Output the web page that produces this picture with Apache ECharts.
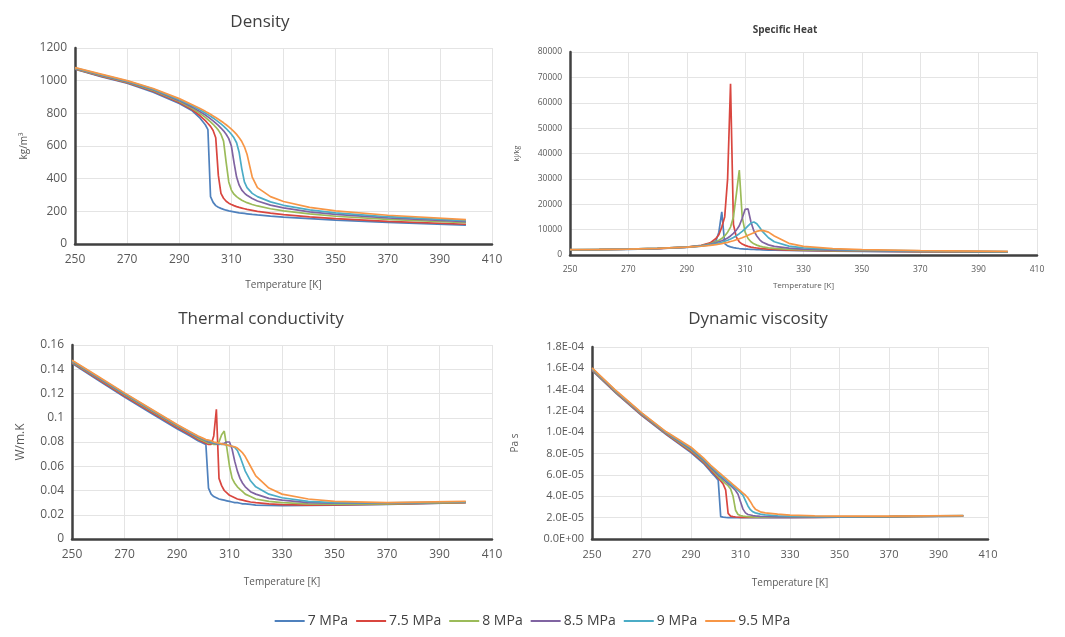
<!DOCTYPE html>
<html><head><meta charset="utf-8">
<script src="https://cdn.jsdelivr.net/npm/echarts@6/dist/echarts.min.js"></script>
<style>html,body{margin:0;padding:0;background:#fff}#c{width:1065px;height:637px}</style>
</head><body><div id="c"></div>
<script>
// Temperature points [K]
const temperature = [250,260,270,280,290,295,298,300,301,302,303,304,305,306,307,308,309,310,311,312,313,314,315,316,318,320,325,330,340,350,370,400];
const pressures = ['7 MPa','7.5 MPa','8 MPa','8.5 MPa','9 MPa','9.5 MPa'];
const colors = ['#4F81BD','#D9463F','#9BBB59','#8064A2','#4BACC6','#F79646'];
const xTickMin = 250, xTickMax = 410, xTickStep = 20;

// Density [kg/m3]
const density_7   = [1070,1025,985,930,860,815,770,730,700,290,255,235,225,218,212,207,203,200,197,194,191,189,187,185,181,178,171,165,155,146,132,115];
const density_7_5 = [1072,1028,988,935,866,822,785,755,738,720,695,650,420,310,280,262,250,242,235,229,224,220,216,212,206,200,189,180,166,155,139,121];
const density_8   = [1074,1031,991,940,872,830,798,775,762,748,733,716,697,672,630,500,380,330,305,290,278,268,260,253,242,233,216,203,184,170,151,130];
const density_8_5 = [1076,1034,994,944,878,838,810,790,778,766,754,740,726,710,693,672,645,600,500,410,360,330,312,298,278,263,238,221,197,181,160,137];
const density_9   = [1078,1037,997,948,884,846,820,802,792,782,771,760,748,735,722,707,690,672,650,620,560,460,380,345,310,290,258,237,209,191,167,143];
const density_9_5 = [1080,1040,1000,952,890,853,829,812,803,794,784,774,764,753,742,730,717,703,688,671,651,627,595,550,410,345,290,260,224,203,176,149];

// Specific heat
const cp_7   = [2000,2100,2250,2500,3000,3600,4500,5500,9000,17000,4500,3600,3200,2900,2700,2550,2450,2350,2280,2220,2160,2110,2060,2020,1950,1890,1780,1690,1540,1430,1270,1150];
const cp_7_5 = [2020,2120,2280,2550,3100,3800,4800,6500,8000,11000,15000,30000,67500,12000,7000,5200,4300,3800,3400,3100,2900,2750,2600,2500,2300,2200,1950,1800,1600,1480,1320,1180];
const cp_8   = [2040,2150,2300,2580,3100,3700,4400,5200,5800,6500,7500,9000,11000,15000,24000,33500,15000,9000,6500,5200,4400,3900,3500,3200,2800,2600,2200,2000,1750,1600,1400,1220];
const cp_8_5 = [2060,2170,2320,2600,3100,3600,4200,4800,5200,5600,6100,6700,7500,8500,9800,11500,14500,18000,18200,13000,9500,7500,6000,5000,4000,3400,2700,2300,1950,1750,1500,1280];
const cp_9   = [2080,2180,2330,2610,3100,3500,4000,4400,4700,5000,5400,5800,6300,6900,7600,8400,9300,10300,11500,12600,13000,12300,10800,9200,6800,5200,3500,2800,2200,1900,1600,1330];
const cp_9_5 = [2100,2200,2350,2620,3100,3450,3800,4100,4300,4500,4750,5000,5300,5600,6000,6400,6800,7300,7800,8300,8800,9300,9600,9700,9000,7500,4600,3400,2500,2100,1750,1400];

// Thermal conductivity [W/m.K]
const tc_7   = [0.145,0.131,0.117,0.104,0.091,0.085,0.081,0.079,0.078,0.042,0.037,0.035,0.034,0.033,0.0325,0.032,0.0315,0.031,0.0305,0.030,0.030,0.0295,0.029,0.029,0.0285,0.028,0.0278,0.0276,0.0277,0.028,0.0285,0.030];
const tc_7_5 = [0.1455,0.1317,0.118,0.105,0.092,0.086,0.082,0.080,0.079,0.078,0.078,0.085,0.107,0.050,0.044,0.040,0.038,0.036,0.035,0.034,0.033,0.0325,0.032,0.0315,0.0305,0.030,0.029,0.0283,0.028,0.0282,0.0288,0.030];
const tc_8   = [0.146,0.1325,0.119,0.106,0.093,0.087,0.083,0.081,0.080,0.079,0.079,0.078,0.078,0.080,0.086,0.089,0.075,0.060,0.050,0.046,0.043,0.041,0.039,0.037,0.035,0.033,0.031,0.030,0.029,0.0288,0.029,0.0302];
const tc_8_5 = [0.1465,0.133,0.1195,0.1065,0.0935,0.0875,0.084,0.082,0.081,0.080,0.0795,0.079,0.0785,0.078,0.0785,0.079,0.080,0.080,0.074,0.064,0.056,0.050,0.046,0.043,0.039,0.037,0.0335,0.032,0.030,0.0295,0.0295,0.0305];
const tc_9   = [0.147,0.1335,0.120,0.107,0.094,0.088,0.0845,0.0825,0.0815,0.081,0.080,0.0795,0.079,0.0785,0.078,0.078,0.0775,0.077,0.0765,0.0755,0.073,0.068,0.062,0.056,0.048,0.043,0.037,0.034,0.031,0.030,0.0298,0.0307];
const tc_9_5 = [0.1475,0.134,0.1205,0.1075,0.0945,0.0885,0.085,0.083,0.082,0.0815,0.081,0.080,0.0795,0.079,0.0785,0.078,0.0775,0.077,0.0765,0.076,0.075,0.073,0.071,0.068,0.060,0.052,0.042,0.037,0.033,0.031,0.030,0.031];

// Dynamic viscosity [Pa s]
const visc_7   = [1.58e-4,1.36e-4,1.16e-4,9.8e-5,8.1e-5,7.1e-5,6.3e-5,5.8e-5,5.5e-5,2.1e-5,2.05e-5,2.02e-5,2.0e-5,2.0e-5,2.0e-5,2.0e-5,2.0e-5,2.0e-5,2.0e-5,2.0e-5,2.0e-5,2.0e-5,2.0e-5,2.0e-5,2.0e-5,2.0e-5,2.0e-5,2.0e-5,2.02e-5,2.04e-5,2.08e-5,2.15e-5];
const visc_7_5 = [1.585e-4,1.365e-4,1.165e-4,9.85e-5,8.2e-5,7.2e-5,6.45e-5,5.95e-5,5.7e-5,5.45e-5,5.15e-5,4.6e-5,2.4e-5,2.15e-5,2.1e-5,2.06e-5,2.04e-5,2.03e-5,2.02e-5,2.02e-5,2.02e-5,2.02e-5,2.02e-5,2.02e-5,2.02e-5,2.02e-5,2.02e-5,2.02e-5,2.03e-5,2.05e-5,2.09e-5,2.16e-5];
const visc_8   = [1.59e-4,1.37e-4,1.17e-4,9.9e-5,8.3e-5,7.3e-5,6.6e-5,6.1e-5,5.85e-5,5.6e-5,5.4e-5,5.2e-5,5.0e-5,4.7e-5,4.0e-5,2.7e-5,2.3e-5,2.2e-5,2.15e-5,2.12e-5,2.1e-5,2.08e-5,2.07e-5,2.06e-5,2.05e-5,2.05e-5,2.04e-5,2.04e-5,2.05e-5,2.06e-5,2.1e-5,2.17e-5];
const visc_8_5 = [1.595e-4,1.375e-4,1.175e-4,9.95e-5,8.4e-5,7.4e-5,6.7e-5,6.25e-5,6.0e-5,5.8e-5,5.6e-5,5.4e-5,5.2e-5,5.0e-5,4.8e-5,4.55e-5,4.2e-5,3.5e-5,2.8e-5,2.45e-5,2.3e-5,2.25e-5,2.2e-5,2.17e-5,2.13e-5,2.11e-5,2.08e-5,2.07e-5,2.07e-5,2.08e-5,2.11e-5,2.18e-5];
const visc_9   = [1.6e-4,1.38e-4,1.18e-4,1.0e-4,8.5e-5,7.5e-5,6.8e-5,6.4e-5,6.15e-5,5.95e-5,5.75e-5,5.55e-5,5.35e-5,5.15e-5,4.95e-5,4.75e-5,4.55e-5,4.35e-5,4.1e-5,3.6e-5,3.1e-5,2.75e-5,2.55e-5,2.45e-5,2.33e-5,2.27e-5,2.18e-5,2.14e-5,2.1e-5,2.1e-5,2.12e-5,2.19e-5];
const visc_9_5 = [1.605e-4,1.385e-4,1.185e-4,1.005e-4,8.6e-5,7.6e-5,6.9e-5,6.5e-5,6.3e-5,6.1e-5,5.9e-5,5.7e-5,5.5e-5,5.3e-5,5.1e-5,4.9e-5,4.7e-5,4.5e-5,4.3e-5,4.1e-5,3.85e-5,3.5e-5,3.1e-5,2.8e-5,2.55e-5,2.45e-5,2.33e-5,2.24e-5,2.16e-5,2.14e-5,2.14e-5,2.2e-5];

const panels = [
  {title:'Density', yName:'kg/m\u00B3', yMax:1200, yStep:200, sets:[density_7,density_7_5,density_8,density_8_5,density_9,density_9_5]},
  {title:'Specific Heat', yName:'kJ/kg', yMax:80000, yStep:10000, sets:[cp_7,cp_7_5,cp_8,cp_8_5,cp_9,cp_9_5]},
  {title:'Thermal conductivity', yName:'W/m.K', yMax:0.16, yStep:0.02, sets:[tc_7,tc_7_5,tc_8,tc_8_5,tc_9,tc_9_5]},
  {title:'Dynamic viscosity', yName:'Pa s', yMax:1.8e-4, yStep:2e-5, sets:[visc_7,visc_7_5,visc_8,visc_8_5,visc_9,visc_9_5]}
];

function sci(v){
  if (Math.abs(v) < 1e-12) return '0.0E+00';
  const s = v.toExponential(1).split('e');
  const n = parseInt(s[1],10);
  return s[0] + 'E' + (n<0?'-':'+') + String(Math.abs(n)).padStart(2,'0');
}
function plain(v){ return String(+v.toPrecision(6)); }

const layout = [
  {grid:{left:75, top:48, width:417, height:196}, titleX:255, titleY:9, titleSize:17, titleBold:'normal', lab:12, yGap:46, xGap:36, nameSize:10, yNameSize:10},
  {grid:{left:570, top:52, width:467, height:203}, titleX:780, titleY:20, titleSize:10, titleBold:'bold', lab:8.5, yGap:50, xGap:27, nameSize:8, yNameSize:7},
  {grid:{left:72, top:345, width:420, height:194}, titleX:256, titleY:306, titleSize:17, titleBold:'normal', lab:12, yGap:45, xGap:38, nameSize:10, yNameSize:12},
  {grid:{left:592, top:347, width:396, height:192}, titleX:753, titleY:306, titleSize:17, titleBold:'normal', lab:11, yGap:72, xGap:39, nameSize:10, yNameSize:10}
];

const grids=[], xAxes=[], yAxes=[], titles=[], series=[];
panels.forEach((p,i)=>{
  const L = layout[i];
  grids.push(L.grid);
  titles.push({text:p.title, left:L.titleX, top:L.titleY, textAlign:'center',
    textStyle:{fontFamily:'Open Sans', fontSize:L.titleSize, fontWeight:L.titleBold, color:'#404040'}});
  xAxes.push({type:'value', gridIndex:i, min:xTickMin, max:xTickMax, interval:xTickStep,
    name:'Temperature [K]', nameLocation:'middle', nameGap:L.xGap,
    nameTextStyle:{fontFamily:'Open Sans', fontSize:L.nameSize, color:'#595959'},
    axisLine:{lineStyle:{color:'#404040', width:2.5}}, axisTick:{show:false},
    axisLabel:{fontFamily:'Open Sans', fontSize:L.lab, color:'#595959', margin:10, formatter:plain},
    splitLine:{show:true, lineStyle:{color:'#e4e4e4', width:1}}});
  yAxes.push({type:'value', gridIndex:i, min:0, max:p.yMax, interval:p.yStep,
    name:p.yName, nameLocation:'middle', nameGap:L.yGap, nameRotate:90,
    nameTextStyle:{fontFamily:'Open Sans', fontSize:L.yNameSize, color:'#595959'},
    axisLine:{show:true, lineStyle:{color:'#404040', width:2.5}}, axisTick:{show:false},
    axisLabel:{fontFamily:'Open Sans', fontSize:L.lab, color:'#595959', margin:8,
      formatter: i===3 ? sci : plain},
    splitLine:{show:true, lineStyle:{color:'#e4e4e4', width:1}}});
  p.sets.forEach((arr,k)=>{
    series.push({name:pressures[k], type:'line', xAxisIndex:i, yAxisIndex:i, symbol:'none',
      smooth:false,
      lineStyle:{width:1.7, color:colors[k]}, itemStyle:{color:colors[k]},
      data: temperature.map((t,j)=>[t, arr[j]])});
  });
});

const chart = echarts.init(document.getElementById('c'), null, {renderer:'canvas'});
chart.setOption({
  animation:false,
  backgroundColor:'#ffffff',
  title:titles,
  grid:grids, xAxis:xAxes, yAxis:yAxes,
  legend:{data:pressures, left:'center', top:609, icon:'rect', itemWidth:30, itemHeight:2, itemGap:8,
    textStyle:{fontFamily:'Open Sans', fontSize:14, color:'#404040', padding:[0,0,0,-2]}},
  series:series
});
</script></body></html>
